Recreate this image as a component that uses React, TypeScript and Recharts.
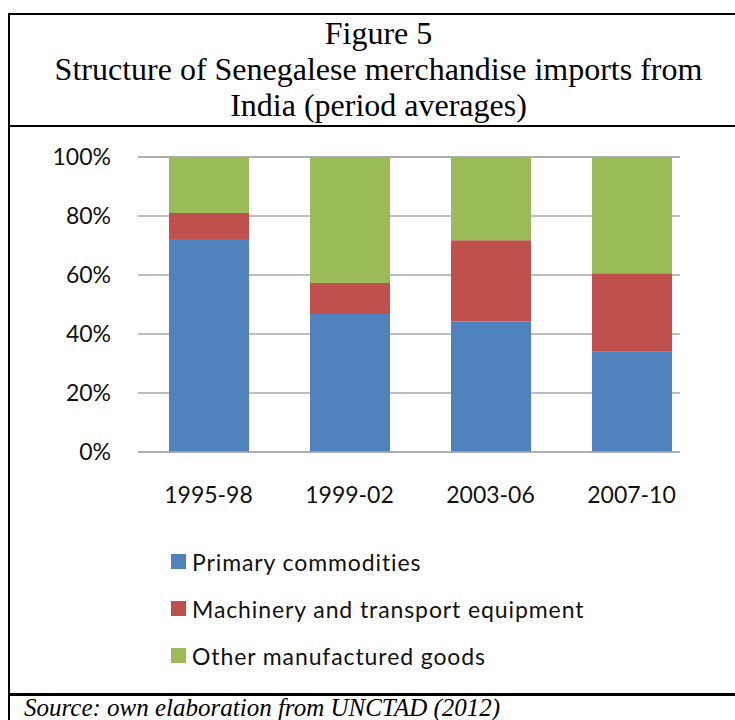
import { BarChart, Bar, XAxis, YAxis, CartesianGrid, Legend } from 'recharts';

const periods = ['1995-98', '1999-02', '2003-06', '2007-10'];
const primaryCommodities = [72.2, 46.8, 44.2, 34.0];
const machineryTransport = [8.8, 10.5, 27.6, 26.6];
const otherManufactured = [19.0, 42.7, 28.2, 39.4];
const yTicks = [0, 20, 40, 60, 80, 100];

const SERIES = [
  { key: 'primary', name: 'Primary commodities', color: '#4F81BD' },
  { key: 'machinery', name: 'Machinery and transport equipment', color: '#C0504D' },
  { key: 'other', name: 'Other manufactured goods', color: '#9BBB59' },
];

const data = periods.map((period, i) => ({
  period,
  primary: primaryCommodities[i],
  machinery: machineryTransport[i],
  other: otherManufactured[i],
}));

const GRID = '#A8A8A8';
const tickStyle = { fontFamily: 'Lato', fontSize: 23, fill: '#111' };

function LegendBox() {
  return (
    <div style={{ height: 141, fontFamily: 'Lato', fontSize: 23, letterSpacing: 0.9, color: '#111' }}>
      {SERIES.map((s) => (
        <div key={s.key} style={{ height: 47, display: 'flex', alignItems: 'center' }}>
          <span style={{ display: 'inline-block', width: 15, height: 15, background: s.color, marginRight: 6 }} />
          <span>{s.name}</span>
        </div>
      ))}
    </div>
  );
}

function Rule({ x, y, w, h }: { x: number; y: number; w: number; h: number }) {
  return <div style={{ position: 'absolute', left: x, top: y, width: w, height: h, background: '#000' }} />;
}

export default function App() {
  return (
    <div style={{ position: 'absolute', left: 0, top: 0, width: 735, height: 720, overflow: 'hidden', background: '#fff' }}>
      {/* table frame */}
      <Rule x={8} y={13} w={740} h={2} />
      <Rule x={8} y={125} w={740} h={2} />
      <Rule x={8} y={693} w={740} h={3} />
      <Rule x={8} y={13} w={2} h={720} />

      <div
        style={{
          position: 'absolute',
          left: 8,
          top: 15,
          width: 741,
          textAlign: 'center',
          fontFamily: '"Liberation Serif", serif',
          fontSize: 32,
          lineHeight: '36px',
          color: '#000',
        }}
      >
        <div>Figure 5</div>
        <div>Structure of Senegalese merchandise imports from</div>
        <div>India (period averages)</div>
      </div>

      <div style={{ position: 'absolute', left: 0, top: 127 }}>
        <BarChart
          width={735}
          height={566}
          data={data}
          margin={{ top: 30, right: 55, bottom: 40, left: 38 }}
        >
          <CartesianGrid vertical={false} stroke={GRID} strokeWidth={1.5} />
          <XAxis
            dataKey="period"
            tick={tickStyle}
            tickLine={false}
            tickSize={0}
            tickMargin={35}
            height={60}
            stroke={GRID}
            strokeWidth={1.5}
            padding={{ left: 0, right: -22 }}
          />
          <YAxis
            domain={[0, 100]}
            ticks={yTicks}
            tickFormatter={(v) => `${v}%`}
            tick={tickStyle}
            axisLine={false}
            tickLine={false}
            tickSize={0}
            tickMargin={27}
            width={100}
          />
          <Legend
            layout="vertical"
            verticalAlign="bottom"
            content={() => <LegendBox />}
            wrapperStyle={{ left: 171, top: 411, width: 'auto' }}
          />
          {SERIES.map((s) => (
            <Bar
              key={s.key}
              dataKey={s.key}
              name={s.name}
              stackId="a"
              fill={s.color}
              barSize={80}
              isAnimationActive={false}
            />
          ))}
        </BarChart>
      </div>

      <div
        style={{
          position: 'absolute',
          left: 24,
          top: 693,
          fontFamily: '"Liberation Serif", serif',
          fontStyle: 'italic',
          fontSize: 25,
          lineHeight: '30px',
          color: '#000',
          whiteSpace: 'nowrap',
        }}
      >
        Source: own elaboration from UNCTAD (2012)
      </div>
    </div>
  );
}
